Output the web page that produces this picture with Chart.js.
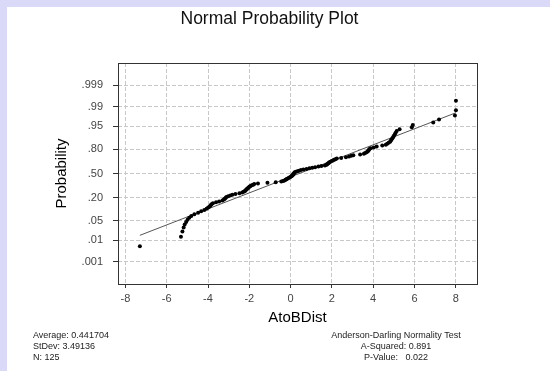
<!DOCTYPE html>
<html>
<head>
<meta charset="utf-8">
<script src="https://cdn.jsdelivr.net/npm/chart.js@4/dist/chart.umd.min.js"></script>
<style>
  body { margin: 0; width: 550px; height: 371px; overflow: hidden; background: #dadaf8; font-family: Arial, "Liberation Sans", sans-serif; }
  #panel { position: absolute; left: 7px; top: 7px; width: 543px; height: 364px; background: #fff; }
  #chart { position: absolute; left: 0; top: 0; }
  #title { position: absolute; left: 0; top: 8px; width: 539px; text-align: center; font-size: 17.5px; line-height: 20px; color: #111; }
  .stats { position: absolute; top: 330px; font-size: 9px; line-height: 11px; color: #222; white-space: pre; }
  #statsLeft { left: 33px; }
  #statsRight { left: 296px; width: 200px; text-align: center; }
</style>
</head>
<body>
<div id="panel"></div>
<canvas id="chart" width="550" height="371"></canvas>
<div id="title">Normal Probability Plot</div>
<div class="stats" id="statsLeft">Average: 0.441704
StDev: 3.49136
N: 125</div>
<div class="stats" id="statsRight">Anderson-Darling Normality Test
A-Squared: 0.891
P-Value:   0.022</div>
<script>
// probability axis
const probTicks = [0.001, 0.01, 0.05, 0.20, 0.50, 0.80, 0.95, 0.99, 0.999];
const probLabels = ['.001', '.01', '.05', '.20', '.50', '.80', '.95', '.99', '.999'];
const xTicks = [-8, -6, -4, -2, 0, 2, 4, 6, 8];

const atobDist = [
  -7.30, -5.31, -5.24, -5.18, -5.13, -5.06, -4.99, -4.91, -4.81, -4.66,
  -4.48, -4.33, -4.18, -4.07, -3.99, -3.92, -3.87, -3.83, -3.76, -3.61,
  -3.46, -3.30, -3.23, -3.19, -3.15, -3.11, -3.02, -2.92, -2.82, -2.67,
  -2.48, -2.34, -2.28, -2.22, -2.19, -2.15, -2.12, -2.08, -2.05, -2.02,
  -1.98, -1.94, -1.88, -1.81, -1.76, -1.58, -1.12, -0.72, -0.45, -0.36,
  -0.30, -0.24, -0.20, -0.16, -0.10, -0.05, -0.01, 0.04, 0.07, 0.09,
  0.12, 0.13, 0.16, 0.18, 0.20, 0.26, 0.33, 0.41, 0.50, 0.62,
  0.77, 0.91, 1.05, 1.19, 1.35, 1.49, 1.66, 1.74, 1.77, 1.81,
  1.85, 1.88, 1.93, 1.99, 2.05, 2.11, 2.17, 2.24, 2.45, 2.68,
  2.83, 2.94, 3.04, 3.37, 3.55, 3.61, 3.68, 3.73, 3.76, 3.79,
  3.82, 3.88, 4.03, 4.17, 4.44, 4.61, 4.68, 4.75, 4.82, 4.86,
  4.89, 4.93, 4.97, 5.01, 5.05, 5.09, 5.14, 5.28, 5.87, 5.92,
  6.91, 7.19, 7.96, 8.01, 8.01
];

// fitted line end points (x, probability)
const fitX = [-7.3, 8.0];
const fitP = [0.0154, 0.983];

// inverse normal cdf, used to build the probability scale
function qnorm(p) {
  const a = [-39.69683028665376, 220.9460984245205, -275.9285104469687, 138.3577518672690, -30.66479806614716, 2.506628277459239];
  const b = [-54.47609879822406, 161.5858368580409, -155.6989798598866, 66.80131188771972, -13.28068155288572];
  const c = [-0.007784894002430293, -0.3223964580411365, -2.400758277161838, -2.549732539343734, 4.374664141464968, 2.938163982698783];
  const d = [0.007784695709041462, 0.3224671290700398, 2.445134137142996, 3.754408661907416];
  let q, r;
  if (p < 0.02425) {
    q = Math.sqrt(-2 * Math.log(p));
    return (((((c[0]*q+c[1])*q+c[2])*q+c[3])*q+c[4])*q+c[5]) / ((((d[0]*q+d[1])*q+d[2])*q+d[3])*q+1);
  }
  if (p > 1 - 0.02425) {
    q = Math.sqrt(-2 * Math.log(1 - p));
    return -(((((c[0]*q+c[1])*q+c[2])*q+c[3])*q+c[4])*q+c[5]) / ((((d[0]*q+d[1])*q+d[2])*q+d[3])*q+1);
  }
  q = p - 0.5; r = q * q;
  return (((((a[0]*r+a[1])*r+a[2])*r+a[3])*r+a[4])*r+a[5])*q / (((((b[0]*r+b[1])*r+b[2])*r+b[3])*r+b[4])*r+1);
}

const n = atobDist.length;
const points = atobDist.map((x, i) => ({ x: x, y: qnorm((i + 1 - 0.3) / (n + 0.4)) }));
const fitLine = fitX.map((x, i) => ({ x: x, y: qnorm(fitP[i]) }));

const framePlugin = {
  id: 'frame',
  afterDraw(chart) {
    const a = chart.chartArea, ctx = chart.ctx;
    ctx.save();
    ctx.strokeStyle = '#333';
    ctx.lineWidth = 1;
    ctx.strokeRect(Math.round(a.left) + 0.5, Math.round(a.top) + 0.5, Math.round(a.right - a.left), Math.round(a.bottom - a.top));
    ctx.restore();
  }
};

const tickFont = { family: 'Arial, "Liberation Sans", sans-serif', size: 11 };
const titleFont = { family: 'Arial, "Liberation Sans", sans-serif', size: 15 };

new Chart(document.getElementById('chart').getContext('2d'), {
  type: 'scatter',
  data: {
    datasets: [
      {
        data: points,
        backgroundColor: '#000',
        borderWidth: 0,
        pointRadius: 2,
        order: 0
      },
      {
        type: 'line',
        data: fitLine,
        borderColor: '#555',
        borderWidth: 1,
        pointRadius: 0,
        fill: false,
        order: 1
      }
    ]
  },
  options: {
    responsive: false,
    animation: false,
    devicePixelRatio: 1,
    layout: { padding: { left: 40, right: 73, top: 63, bottom: 42 } },
    plugins: { legend: { display: false }, tooltip: { enabled: false } },
    scales: {
      x: {
        type: 'linear',
        min: -8.36,
        max: 9.03,
        afterBuildTicks: s => { s.ticks = xTicks.map(v => ({ value: v })); },
        afterFit: s => { s.height = 45; },
        ticks: { font: tickFont, color: '#444', padding: 4, callback: v => String(v) },
        grid: { color: '#c8c8c8', tickColor: '#333', tickLength: 4, tickBorderDash: [] },
        border: { display: false, dash: [4, 2] },
        title: { display: true, text: 'AtoBDist', font: titleFont, color: '#000', padding: { top: 0, bottom: 2 } }
      },
      y: {
        type: 'linear',
        min: -3.86,
        max: 3.86,
        afterBuildTicks: s => { s.ticks = probTicks.map(p => ({ value: qnorm(p) })); },
        afterFit: s => { s.width = 78; },
        ticks: { font: tickFont, color: '#444', padding: 10, callback: (v, i) => probLabels[i] },
        grid: { color: '#c8c8c8', tickColor: '#333', tickLength: 5, tickBorderDash: [] },
        border: { display: false, dash: [4, 2] },
        title: { display: true, text: 'Probability', font: titleFont, color: '#000', padding: { top: 12.5, bottom: 0 } }
      }
    }
  },
  plugins: [framePlugin]
});
</script>
</body>
</html>
